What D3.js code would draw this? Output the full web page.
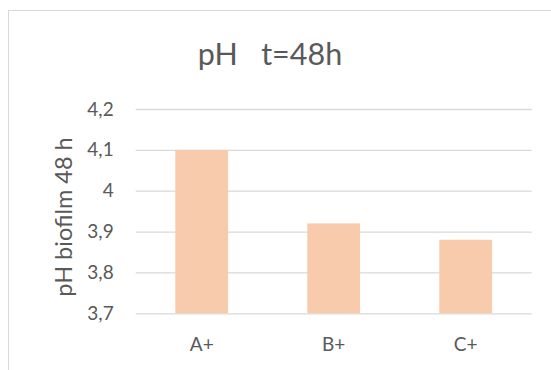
<!DOCTYPE html>
<html>
<head>
<meta charset="utf-8">
<script src="https://cdn.jsdelivr.net/npm/d3@7"></script>
<style>
  html, body { margin: 0; padding: 0; background: #fff; }
  svg { display: block; font-family: Lato, "Open Sans", sans-serif; }
</style>
</head>
<body>
<script>
// pH of the biofilm after 48 h, per sample
const categories = ["A+", "B+", "C+"];
const phValues = [4.1, 3.92, 3.88];
const yTicks = [3.7, 3.8, 3.9, 4.0, 4.1, 4.2];
const titleText = "pH   t=48h";
const yLabel = "pH biofilm 48 h";

const W = 551, H = 370;
const plot = { left: 135.7, right: 531.7, top: 109, bottom: 313.3 };
const textColor = "#595959";
const gridColor = "#d9d9d9";
const barColor = "#F8CBAD";

const svg = d3.select("body").append("svg")
  .attr("width", W).attr("height", H);

// chart frame
svg.append("rect")
  .attr("x", 8.5).attr("y", 10.5)
  .attr("width", 700).attr("height", 500)
  .attr("fill", "none").attr("stroke", gridColor).attr("stroke-width", 1);

const x = d3.scaleBand()
  .domain(categories)
  .range([plot.left, plot.right])
  .paddingInner(0.6).paddingOuter(0.3);

const y = d3.scaleLinear()
  .domain([3.7, 4.2])
  .range([plot.bottom, plot.top]);

const fmt = v => d3.format("")(+v.toFixed(1)).replace(".", ",");

// horizontal gridlines + tick labels
const yAxis = d3.axisLeft(y)
  .tickValues(yTicks)
  .tickSize(-(plot.right - plot.left))
  .tickPadding(22)
  .tickFormat(fmt);

const gy = svg.append("g")
  .attr("transform", `translate(${plot.left},0)`)
  .call(yAxis);
gy.select(".domain").remove();
gy.selectAll(".tick line").attr("stroke", gridColor).attr("stroke-width", 1.3);
gy.selectAll(".tick text")
  .attr("fill", textColor)
  .attr("font-size", 19)
  .attr("font-family", "Lato, sans-serif");

// bars
svg.append("g").selectAll("rect")
  .data(categories.map((c, i) => ({ c, v: phValues[i] })))
  .join("rect")
  .attr("x", d => x(d.c))
  .attr("width", x.bandwidth())
  .attr("y", d => y(d.v))
  .attr("height", d => y(3.7) - y(d.v))
  .attr("fill", barColor);

// category axis labels
const xAxis = d3.axisBottom(x).tickSize(0).tickPadding(24);
const gx = svg.append("g")
  .attr("transform", `translate(0,${plot.bottom})`)
  .call(xAxis);
gx.select(".domain").remove();
gx.selectAll(".tick text")
  .attr("fill", textColor)
  .attr("font-size", 19)
  .attr("font-family", "Lato, sans-serif");

// title
svg.append("text")
  .attr("x", 270).attr("y", 65)
  .attr("text-anchor", "middle")
  .attr("fill", textColor)
  .attr("font-size", 30.5)
  .style("white-space", "pre")
  .text(titleText);

// y-axis title
svg.append("text")
  .attr("transform", "translate(71.5,217) rotate(-90)")
  .attr("text-anchor", "middle")
  .attr("fill", textColor)
  .attr("font-size", 23.5)
  .text(yLabel);
</script>
</body>
</html>
